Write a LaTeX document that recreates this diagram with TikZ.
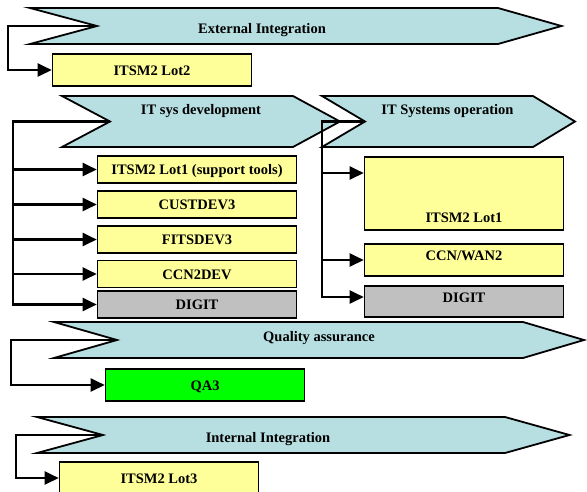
\documentclass[tikz,border=0pt]{standalone}
\usepackage{fontspec}
\setmainfont{Liberation Serif}
\usetikzlibrary{arrows.meta}
\definecolor{phasefill}{RGB}{183,222,225}
\definecolor{lotyellow}{RGB}{255,255,153}
\definecolor{digitgray}{RGB}{192,192,192}
\definecolor{qagreen}{RGB}{0,255,0}
% chevron: name, left x, body end x, top y, bottom y, notch depth, tip depth
\newcommand\phasearrow[7]
{
  \draw[phaseshape] (#2,#4) -- (#3,#4) -- ({#3+#7},{(#4+#5)/2}) -- (#3,#5)
    -- (#2,#5) -- ({#2+#6},{(#4+#5)/2}) -- cycle;
  \coordinate (#1) at ({#2+#6},{(#4+#5)/2});
}

\begin{document}
\begin{tikzpicture}[x=1pt,y=-1pt]
  \tikzstyle{phaseshape}=[draw=black, line width=1.8pt, fill=phasefill]
  \tikzstyle{phasetext}=[font=\bfseries\fontsize{14.5}{16}\selectfont,
       text height=10pt, text depth=0pt, inner sep=0pt]
  \tikzstyle{lotbox}=[draw=black, line width=1.6pt, fill=lotyellow,
       minimum width=199pt, minimum height=27pt, inner sep=3pt,
       text height=10pt, text depth=0pt,
       font=\bfseries\fontsize{14.5}{16}\selectfont]
  \tikzstyle{digitbox}=[lotbox, fill=digitgray]
  \tikzstyle{flow}=[line width=2.4pt, -{Triangle[length=14pt,width=13pt]}]
  \useasboundingbox (0,0) rectangle (587,491);

  % phases
  \phasearrow{ext}{30}{498}{8}{44}{67}{63.5}
  \phasearrow{dev}{62}{293}{96}{147}{48}{47}
  \phasearrow{ops}{322}{533}{96}{147}{43}{42}
  \phasearrow{qa}{54}{523}{322}{358}{63}{61}
  \phasearrow{int}{37}{505}{417}{453}{66}{64.5}
  \node[phasetext] (exttext) at (262,28) {External Integration};
  \node[phasetext] (devtext) at (201,109) {IT sys development};
  \node[phasetext] (opstext) at (447.5,109) {IT Systems operation};
  \node[phasetext] (qatext) at (319,336) {Quality assurance};
  \node[phasetext] (inttext) at (268,437) {Internal Integration};

  % contracts
  \node[lotbox, minimum height=32pt] (lot2) at (152,70) {ITSM2 Lot2};
  \node[lotbox] (tools) at (197,169.5) {ITSM2 Lot1 (support tools)};
  \node[lotbox] (custdev) at (197,204.5) {CUSTDEV3};
  \node[lotbox] (fitsdev) at (197,239.5) {FITSDEV3};
  \node[lotbox] (ccn2dev) at (197,274) {CCN2DEV};
  \node[digitbox] (devdigit) at (197,304.5) {DIGIT};
  \node[lotbox, minimum height=73pt, text height=62.8pt, text depth=4.2pt]
       (opslot1) at (464,193.5) {ITSM2 Lot1};
  \node[lotbox, minimum height=32pt, text height=13.8pt, text depth=12.2pt]
       (wan) at (464,260) {CCN/WAN2};
  \node[digitbox, minimum height=31pt, text height=13.8pt, text depth=11.2pt]
       (opsdigit) at (464,301.5) {DIGIT};
  \node[lotbox, fill=qagreen, minimum height=32pt] (qa3) at (205,385) {QA3};
  \node[lotbox, minimum height=32pt] (lot3) at (159,478) {ITSM2 Lot3};

  % links
  \draw[flow] (ext) -- ++(-89,0) |- (lot2.west);
  \foreach \b in {tools,custdev,fitsdev,ccn2dev,devdigit}
    \draw[flow] (dev) -- ++(-97,0) |- (\b.west);
  \draw[flow] (ops) -- ++(-43,0) |- ([yshift=20.5pt]opslot1.west);
  \draw[flow] (ops) -- ++(-43,0) |- (wan.west);
  \draw[flow] (ops) -- ++(-43,0) |- ([yshift=4.5pt]opsdigit.west);
  \draw[flow] (qa) -- ++(-106,0) |- (qa3.west);
  \draw[flow] (int) -- ++(-87,0) |- (lot3.west);
\end{tikzpicture}
\end{document}
